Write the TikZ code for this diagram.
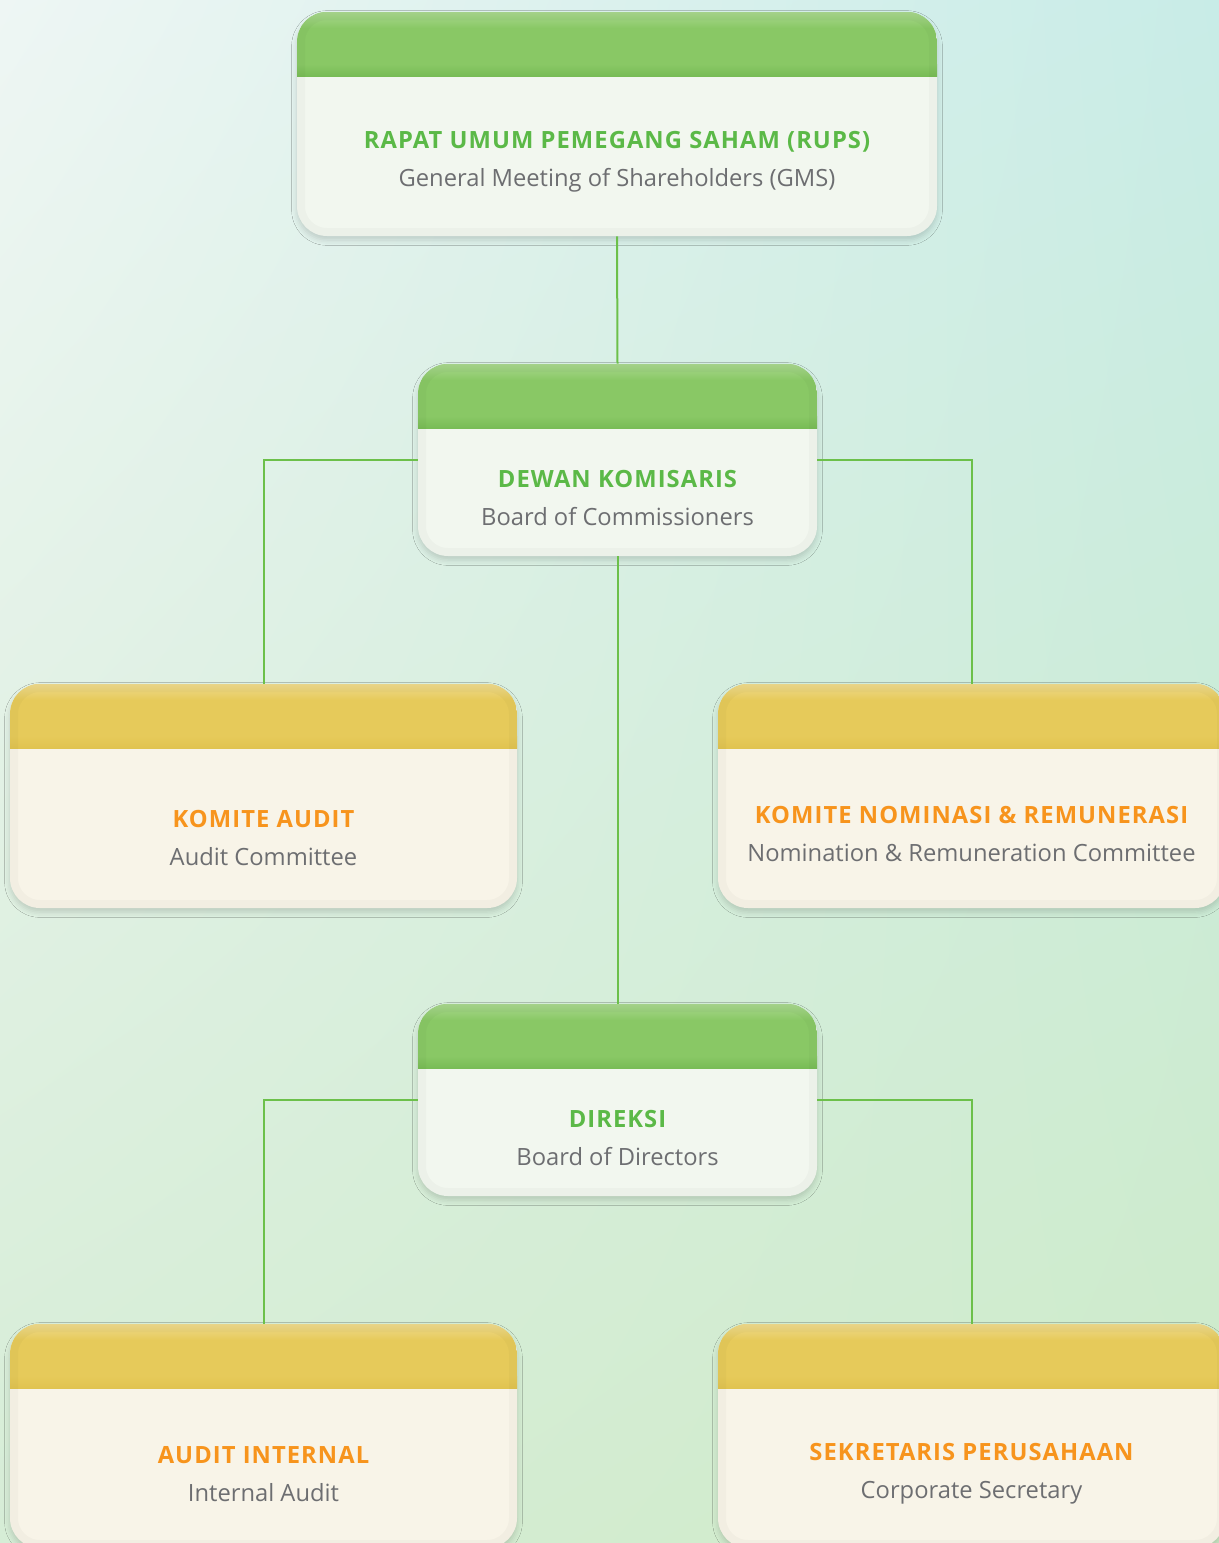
\documentclass[tikz,border=0pt]{standalone}
\usepackage{fontspec}
\newfontfamily\orgfont{Open Sans}
\newfontfamily\orgtitlefont[LetterSpace=4.5]{Open Sans}
\usetikzlibrary{shadings,shadows.blur}

\definecolor{linegreen}{HTML}{6CC04A}
\definecolor{titlegreen}{HTML}{5BB947}
\definecolor{titleorange}{HTML}{F7941D}
\definecolor{subgray}{HTML}{6D6E71}
\definecolor{bodygreen}{HTML}{F2F7EF}
\definecolor{bodyyellow}{HTML}{F8F4E8}
\definecolor{hdgreentop}{HTML}{A8D78D}
\definecolor{hdgreenmid}{HTML}{89C865}
\definecolor{hdgreenbot}{HTML}{78BC56}
\definecolor{hdyellowtop}{HTML}{EEDA8C}
\definecolor{hdyellowmid}{HTML}{E6CA5A}
\definecolor{hdyellowbot}{HTML}{E0C34F}
\definecolor{bgtl}{HTML}{EEF6F4}
\definecolor{bgtr}{HTML}{C8ECE7}
\definecolor{bgbl}{HTML}{D6EDD6}
\definecolor{bgbr}{HTML}{CFEBC8}

\begin{document}
\begin{tikzpicture}[x=0.75pt, y=-0.75pt,
    box/.style={rectangle, rounded corners=22.5pt, inner sep=0pt,
        blur shadow={shadow xshift=0pt, shadow yshift=-3pt,
            shadow blur radius=4pt, shadow opacity=15}},
    header/.style n args={3}{path picture={
        \fill[sharp corners, #2] (path picture bounding box.north west)
            rectangle ([yshift=-48pt]path picture bounding box.north east);
        \shade[sharp corners, top color=#1, bottom color=#2]
            (path picture bounding box.north west)
            rectangle ([yshift=-12pt]path picture bounding box.north east);
        \shade[sharp corners, top color=#2, bottom color=#3]
            ([yshift=-39pt]path picture bounding box.north west)
            rectangle ([yshift=-48pt]path picture bounding box.north east);
        \draw[rounded corners=22.5pt, line width=12pt, black, opacity=0.025]
            (path picture bounding box.north west)
            rectangle (path picture bounding box.south east);}},
    greenbox/.style={box, fill=bodygreen,
        header={hdgreentop}{hdgreenmid}{hdgreenbot}},
    yellowbox/.style={box, fill=bodyyellow,
        header={hdyellowtop}{hdyellowmid}{hdyellowbot}},
    wide/.style={minimum width=480pt, minimum height=168pt},
    mid/.style={minimum width=299.25pt, minimum height=144pt},
    side/.style={minimum width=380.25pt, minimum height=168pt},
    boxtext/.style={align=center, inner sep=0pt,
        font=\orgfont\fontsize{17.8}{28.5}\selectfont}]

    % frame and background
    \path[use as bounding box, clip] (0,0) rectangle (1219,1543);
    \shade[upper left=bgtl, upper right=bgtr, lower left=bgbl, lower right=bgbr]
        (0,0) rectangle (1219,1543);

    % boxes
    \node[greenbox, wide]  (rups)   at (617,124)    {};
    \node[greenbox, mid]   (dewan)  at (617.5,460)  {};
    \node[yellowbox, side] (komaud) at (263.5,796)  {};
    \node[yellowbox, side] (komnom) at (971.5,796)  {};
    \node[greenbox, mid]   (direksi) at (617.5,1100) {};
    \node[yellowbox, side] (audint) at (263.5,1436) {};
    \node[yellowbox, side] (sekper) at (971.5,1436) {};

    % texts
    \node[boxtext] (rupsT) at ([yshift=-28.5pt]rups.center)
        {{\orgtitlefont\bfseries\color{titlegreen}RAPAT UMUM PEMEGANG SAHAM (RUPS)}\\
         \textcolor{subgray}{General Meeting of Shareholders (GMS)}};
    \node[boxtext] (dewanT) at ([yshift=-28.5pt]dewan.center)
        {{\orgtitlefont\bfseries\color{titlegreen}DEWAN KOMISARIS}\\
         \textcolor{subgray}{Board of Commissioners}};
    \node[boxtext] (komaudT) at ([yshift=-31.5pt]komaud.center)
        {{\orgtitlefont\bfseries\color{titleorange}KOMITE AUDIT}\\
         \textcolor{subgray}{Audit Committee}};
    \node[boxtext] (komnomT) at ([yshift=-28.5pt]komnom.center)
        {{\orgtitlefont\bfseries\color{titleorange}KOMITE NOMINASI \& REMUNERASI}\\
         \textcolor{subgray}{Nomination \& Remuneration Committee}};
    \node[boxtext] (direksiT) at ([yshift=-28.5pt]direksi.center)
        {{\orgtitlefont\bfseries\color{titlegreen}DIREKSI}\\
         \textcolor{subgray}{Board of Directors}};
    \node[boxtext] (audintT) at ([yshift=-28.5pt]audint.center)
        {{\orgtitlefont\bfseries\color{titleorange}AUDIT INTERNAL}\\
         \textcolor{subgray}{Internal Audit}};
    \node[boxtext] (sekperT) at ([yshift=-28.5pt]sekper.center)
        {{\orgtitlefont\bfseries\color{titleorange}SEKRETARIS PERUSAHAAN}\\
         \textcolor{subgray}{Corporate Secretary}};

    % connectors
    \draw[linegreen, line width=1.5pt] (rups.south) -- (dewan.north);
    \draw[linegreen, line width=1.5pt] (dewan.west) -| (komaud.north);
    \draw[linegreen, line width=1.5pt] (dewan.east) -| (komnom.north);
    \draw[linegreen, line width=1.5pt] (dewan.south) -- (direksi.north);
    \draw[linegreen, line width=1.5pt] (direksi.west) -| (audint.north);
    \draw[linegreen, line width=1.5pt] (direksi.east) -| (sekper.north);
\end{tikzpicture}
\end{document}
